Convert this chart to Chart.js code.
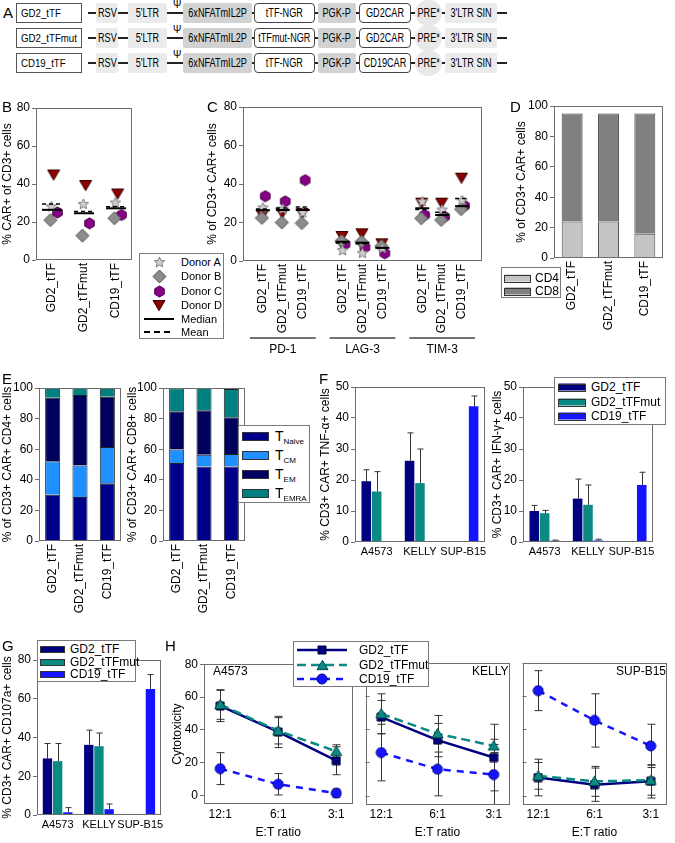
<!DOCTYPE html>
<html>
<head>
<meta charset="utf-8">
<title>tTF CAR T cell figure</title>
<script src="https://cdn.jsdelivr.net/npm/chart.js@4.4.1/dist/chart.umd.min.js"></script>
<style>
  body { margin: 0; background: #fff; }
  #fig { position: relative; width: 675px; height: 843px; overflow: hidden; background: #fff;
         font-family: "Liberation Sans", Arial, sans-serif; color: #000; }
  #fig canvas { position: absolute; }
  .panel { position: absolute; font-size: 15px; line-height: 15px; }
  .legend { position: absolute; background: #fff; border: 1px solid #7a7a7a; box-sizing: border-box; color: #000; }
  .legend div { position: absolute; white-space: nowrap; color: #000; font-weight: normal; }
  .legend sub { font-size: 8px; vertical-align: -3px; }
  .part { position: absolute; box-sizing: border-box; display: flex; align-items: center;
          justify-content: center; font-size: 12px; white-space: nowrap; }
  .part span { display: inline-block; transform: scaleX(0.76); }
  .sub { position: absolute; font-size: 12px; line-height: 14px; white-space: nowrap; }
</style>
</head>
<body>
<div id="fig"></div>
<script>
// ---------- data ----------
const constructs = ['GD2_tTF', 'GD2_tTFmut', 'CD19_tTF'];
const payloads = ['tTF-NGR', 'tTFmut-NGR', 'tTF-NGR'];
const cars = ['GD2CAR', 'GD2CAR', 'CD19CAR'];

// B: % CAR+ of CD3+ cells
const donors = ['Donor A', 'Donor B', 'Donor C', 'Donor D'];
const carDonorA = [28, 29.3, 30];
const carDonorB = [21, 12.8, 22];
const carDonorC = [25, 19.3, 23.7];
const carDonorD = [45, 39.5, 35];
const carMedian = [26.4, 24.6, 27.2];
const carMean = [29.5, 25.5, 28];

// C: % of CD3+ CAR+ cells expressing exhaustion markers (3 constructs per marker)
const exhMarkers = ['PD-1', 'LAG-3', 'TIM-3'];
const exhDonorA = [27.6, 27, 25, 5.4, 4, 6.6, 30.8, 26.5, 31.3];
const exhDonorB = [22.4, 20, 19.7, 10.4, 10, 7.8, 22.2, 21.3, 26.9];
const exhDonorC = [33.7, 31, 42, 8.7, 7.1, 4, 23.9, 23, 28.7];
const exhDonorD = [24, 25, 25, 13, 14.4, 9.2, 30.3, 30.3, 43.3];
const exhMedian = [26.4, 26.5, 26.5, 10, 9.5, 6.8, 27.4, 23.9, 28.5];
const exhMean = [27, 27.5, 28, 9.4, 8.9, 7, 26.8, 25.3, 32.5];

// D: CD4 / CD8 split
const cd4Share = [24, 24, 16];
const cd8Share = [71, 71, 79];

// E: memory subsets
const subsets = ['Naive', 'CM', 'EM', 'EMRA'];
const cd4Naive = [30.3, 28.7, 37.7];
const cd4CM = [21.9, 20.7, 23.7];
const cd4EM = [41.4, 46, 32.9];
const cd4EMRA = [6.4, 4.6, 5.7];
const cd8Naive = [51, 48.7, 48.7];
const cd8CM = [8.8, 7.6, 8.1];
const cd8EM = [25, 29.2, 24.1];
const cd8EMRA = [15, 14.5, 18.5];

// F / G: cytokine and degranulation per target line
const targets = ['A4573', 'KELLY', 'SUP-B15'];
const tnfGD2 = [19.6, 26.2, 0.3];
const tnfGD2Err = [3.7, 9, 0];
const tnfMut = [16.3, 19, 0];
const tnfMutErr = [6.4, 11, 0];
const tnfCD19 = [0, 0, 43.8];
const tnfCD19Err = [0, 0, 3.3];
const ifnGD2 = [10, 14, 0.1];
const ifnGD2Err = [1.8, 6.3, 0];
const ifnMut = [9.3, 12, 0];
const ifnMutErr = [0.9, 6.4, 0];
const ifnCD19 = [0.4, 0.5, 18.4];
const ifnCD19Err = [0.2, 0.4, 4.1];
const cd107GD2 = [29.2, 36.2, 0.3];
const cd107GD2Err = [7.7, 7.6, 0];
const cd107Mut = [27.8, 35.5, 0];
const cd107MutErr = [9.1, 6.8, 0];
const cd107CD19 = [1.4, 3, 65];
const cd107CD19Err = [2.4, 2.7, 7.5];

// H: cytotoxicity by E:T ratio
const ratios = ['12:1', '6:1', '3:1'];
const cytoTicks = [0, 20, 40, 60, 80];
const a4573GD2 = [54.6, 38.8, 21.3];
const a4573GD2Err = [9.5, 9.5, 8.5];
const a4573Mut = [55.5, 39.5, 27];
const a4573MutErr = [9, 8, 4];
const a4573CD19 = [16.5, 7, 1.6];
const a4573CD19Err = [9.7, 6.5, 2.5];
const kellyGD2 = [47.2, 33.4, 22.9];
const kellyGD2Err = [10, 10, 20];
const kellyMut = [49.2, 37.2, 29.9];
const kellyMutErr = [12, 11, 4];
const kellyCD19 = [25.9, 15.9, 12.7];
const kellyCD19Err = [17, 16, 18];
const supGD2 = [10.9, 6.6, 8.6];
const supGD2Err = [11, 10, 10];
const supMut = [11.9, 8.6, 9.3];
const supMutErr = [8, 9, 9];
const supCD19 = [63.1, 45.2, 29.9];
const supCD19Err = [12, 16, 13];

// ---------- helpers ----------
const fig = document.getElementById('fig');
const navy = '#000080', teal = '#0b8a84', blue = '#1414ff';
Chart.defaults.font.family = '"Liberation Sans", Arial, sans-serif';
Chart.defaults.font.size = 12;
Chart.defaults.color = '#000';

function addDiv(css, html, cls) {
    const d = document.createElement('div');
    if (cls) d.className = cls;
    d.style.cssText = css;
    if (html != null) d.innerHTML = html;
    fig.appendChild(d);
    return d;
}

function makeCanvas(left, top, w, h) {
    const c = document.createElement('canvas');
    c.width = w;
    c.height = h;
    c.style.left = left + 'px';
    c.style.top = top + 'px';
    fig.appendChild(c);
    return c;
}

// small marker images, used as pointStyle and in the legends
function makeMarker(shape, size, fill, stroke) {
    const c = document.createElement('canvas');
    c.width = size + 2;
    c.height = size + 2;
    const g = c.getContext('2d');
    const cx = c.width / 2, cy = c.height / 2, r = size / 2;
    g.beginPath();
    if (shape === 'star') {
        for (let i = 0; i < 10; i++) {
            const a = -Math.PI / 2 + i * Math.PI / 5;
            const rr = i % 2 ? r * 0.45 : r;
            g.lineTo(cx + rr * Math.cos(a), cy + rr * Math.sin(a));
        }
    } else if (shape === 'diamond') {
        g.moveTo(cx, cy - r); g.lineTo(cx + r, cy); g.lineTo(cx, cy + r); g.lineTo(cx - r, cy);
    } else if (shape === 'hexagon') {
        for (let i = 0; i < 6; i++) {
            const a = -Math.PI / 2 + i * Math.PI / 3;
            g.lineTo(cx + r * Math.cos(a), cy + r * Math.sin(a));
        }
    } else if (shape === 'triDown') {
        g.moveTo(cx - r, cy - r * 0.75); g.lineTo(cx + r, cy - r * 0.75); g.lineTo(cx, cy + r * 0.95);
    } else if (shape === 'triUp') {
        g.moveTo(cx, cy - r * 0.95); g.lineTo(cx + r, cy + r * 0.75); g.lineTo(cx - r, cy + r * 0.75);
    } else if (shape === 'square') {
        g.rect(cx - r, cy - r, 2 * r, 2 * r);
    } else {
        g.arc(cx, cy, r, 0, Math.PI * 2);
    }
    g.closePath();
    g.fillStyle = fill;
    g.fill();
    g.lineWidth = 1;
    g.strokeStyle = stroke;
    g.stroke();
    return c;
}

const donorMarkers = [
    makeMarker('star', 11, '#cfcfcf', '#7d7d7d'),
    makeMarker('diamond', 13, '#8c8c8c', '#505050'),
    makeMarker('hexagon', 11, '#850085', '#4a004a'),
    makeMarker('triDown', 12, '#8b0000', '#3a0000')
];
const sqMarker = makeMarker('square', 8, navy, '#00002a');
const triMarker = makeMarker('triUp', 11, teal, '#034a46');
const circMarker = makeMarker('circle', 10, blue, '#00008a');

// ---------- plugins ----------
const boxFrame = {
    id: 'boxFrame',
    afterDraw(chart) {
        const a = chart.chartArea, g = chart.ctx;
        g.save();
        g.strokeStyle = '#6e6e6e';
        g.lineWidth = 1;
        g.strokeRect(Math.round(a.left) + 0.5, Math.round(a.top) + 0.5,
            Math.round(a.right - a.left) - 1, Math.round(a.bottom - a.top) - 1);
        g.restore();
    }
};

function drawErrorBars(chart, o) {
    const g = chart.ctx, ys = chart.scales.y, a = chart.chartArea;
    g.save();
    g.beginPath();
    g.rect(a.left, a.top, a.right - a.left, a.bottom - a.top);
    g.clip();
    g.strokeStyle = '#333';
    g.lineWidth = 1;
    chart.data.datasets.forEach((ds, di) => {
        if (!ds.errors) return;
        chart.getDatasetMeta(di).data.forEach((pt, i) => {
            const e = ds.errors[i];
            if (!e) return;
            const raw = ds.data[i];
            const v = typeof raw === 'object' ? raw.y : raw;
            const top = ys.getPixelForValue(v + e);
            const bot = ys.getPixelForValue(o.upOnly ? v : v - e);
            const x = Math.round(pt.x) + 0.5;
            g.beginPath();
            g.moveTo(x, top); g.lineTo(x, bot);
            g.moveTo(x - o.cap, top); g.lineTo(x + o.cap, top);
            if (!o.upOnly) { g.moveTo(x - o.cap, bot); g.lineTo(x + o.cap, bot); }
            g.stroke();
        });
    });
    g.restore();
}

const errorBars = {
    id: 'errorBars',
    beforeDatasetsDraw(chart, args, o) { if (o.cap && o.behind) drawErrorBars(chart, o); },
    afterDatasetsDraw(chart, args, o) { if (o.cap && !o.behind) drawErrorBars(chart, o); }
};

// median (solid) and mean (dashed) bars for the donor plots
const summary = {
    id: 'summary',
    afterDatasetsDraw(chart, args, o) {
        if (!o.median) return;
        const xs = chart.scales.x, ys = chart.scales.y, g = chart.ctx;
        g.save();
        g.strokeStyle = '#000';
        o.positions.forEach((p, i) => {
            const px = xs.getPixelForValue(p);
            g.setLineDash([]);
            g.lineWidth = 2;
            let py = ys.getPixelForValue(o.median[i]);
            g.beginPath(); g.moveTo(px - o.half, py); g.lineTo(px + o.half, py); g.stroke();
            g.setLineDash([4, 3]);
            g.lineWidth = 1.5;
            py = ys.getPixelForValue(o.mean[i]);
            g.beginPath(); g.moveTo(px - o.half, py); g.lineTo(px + o.half, py); g.stroke();
        });
        g.restore();
    }
};

// PD-1 / LAG-3 / TIM-3 brackets under panel C
const groupLabels = {
    id: 'groupLabels',
    afterDraw(chart, args, o) {
        if (!o.groups) return;
        const xs = chart.scales.x, g = chart.ctx, base = chart.chartArea.bottom;
        g.save();
        g.strokeStyle = '#444';
        g.lineWidth = 1.5;
        g.fillStyle = '#000';
        g.font = '12px "Liberation Sans", Arial, sans-serif';
        g.textAlign = 'center';
        g.textBaseline = 'middle';
        o.groups.forEach((name, gi) => {
            const m = o.members[gi];
            const x0 = xs.getPixelForValue(m[0] - 0.65), x1 = xs.getPixelForValue(m[m.length - 1] + 0.65);
            g.beginPath(); g.moveTo(x0, base + o.lineGap); g.lineTo(x1, base + o.lineGap); g.stroke();
            g.fillText(name, (x0 + x1) / 2, base + o.textGap);
        });
        g.restore();
    }
};

// small inward ticks for the H sub-panels without y labels
const innerTicks = {
    id: 'innerTicks',
    afterDraw(chart, args, o) {
        if (!o.values) return;
        const ys = chart.scales.y, a = chart.chartArea, g = chart.ctx;
        g.save();
        g.strokeStyle = '#6e6e6e';
        g.lineWidth = 1;
        o.values.forEach(v => {
            const py = Math.round(ys.getPixelForValue(v)) + 0.5;
            g.beginPath(); g.moveTo(a.left, py); g.lineTo(a.left + 4, py); g.stroke();
        });
        g.restore();
    }
};

Chart.register(boxFrame, errorBars, summary, groupLabels, innerTicks);

// ---------- axis / option builders ----------
function yAxis(width, min, max, step, title, tickList) {
    const ax = {
        min: min, max: max,
        afterFit: s => { s.width = width; },
        ticks: { stepSize: step, padding: 2 },
        grid: { drawOnChartArea: false, tickLength: 4, color: '#6e6e6e' },
        border: { display: false },
        title: { display: !!title, text: title, padding: 0 }
    };
    if (tickList) ax.afterBuildTicks = s => { s.ticks = tickList.map(v => ({ value: v })); };
    return ax;
}

function catAxis(height, rotate, fontSize) {
    return {
        type: 'category',
        afterFit: s => { s.height = height; },
        ticks: { autoSkip: false, minRotation: rotate ? 90 : 0, maxRotation: rotate ? 90 : 0, padding: 3,
                 font: { size: fontSize || 12 } },
        grid: { display: false, drawTicks: false },
        border: { display: false }
    };
}

function posAxis(height, min, max, positions, labels, rotate) {
    return {
        type: 'linear', min: min, max: max,
        afterFit: s => { s.height = height; },
        afterBuildTicks: s => { s.ticks = positions.map(v => ({ value: v })); },
        ticks: {
            autoSkip: false, minRotation: rotate ? 90 : 0, maxRotation: rotate ? 90 : 0, padding: 3,
            callback: v => labels[positions.indexOf(v)]
        },
        grid: { display: false, drawTicks: false },
        border: { display: false }
    };
}

function chartOptions(pad, scales, plugins) {
    return {
        responsive: false,
        animation: false,
        events: [],
        layout: { padding: Object.assign({ left: 0, right: 0, top: 0, bottom: 0 }, pad) },
        plugins: Object.assign({ legend: { display: false }, tooltip: { enabled: false } }, plugins || {}),
        scales: scales
    };
}

// ---------- panel A: vector maps ----------
const rowY = [13, 38, 63];
const partBoxes = [
    [96, 118, '#ebebeb', 'box'], [128, 167, '#ebebeb', 'box'], [183, 252, '#d2d2d2', 'box'],
    [254, 315, '#fff', 'open'], [318, 356, '#d2d2d2', 'box'], [359, 411, '#fff', 'open'],
    [415, 442, '#e8e8e8', 'oval'], [445, 497, '#ebebeb', 'box']
];
constructs.forEach((name, r) => {
    const cy = rowY[r];
    const texts = ['RSV', "5'LTR", '6xNFATmIL2P', payloads[r], 'PGK-P', cars[r], 'PRE*', "3'LTR SIN"];
    addDiv(`position:absolute;left:88px;top:${cy - 1}px;width:419px;height:2px;background:#222`);
    addDiv(`left:16px;top:${cy - 10}px;width:66px;height:20px;border:1px solid #555;background:#fff;justify-content:flex-start;padding-left:4px;font-size:11px`,
        `<span style="transform:scaleX(0.88);transform-origin:left">${name}</span>`, 'part');
    addDiv(`position:absolute;left:173px;top:${cy - 13}px;font-size:10px;line-height:10px`, 'Ψ');
    partBoxes.forEach((p, i) => {
        let css = `left:${p[0]}px;width:${p[1] - p[0]}px;background:${p[2]};`;
        if (p[3] === 'oval') css += `top:${cy - 13}px;height:26px;border-radius:50%;`;
        else if (p[3] === 'open') css += `top:${cy - 10}px;height:20px;border-radius:4px;border:1px solid #444;`;
        else css += `top:${cy - 10}px;height:20px;border-radius:2px;`;
        addDiv(css, `<span>${texts[i]}</span>`, 'part');
    });
});

// ---------- panel B ----------
const bValues = [carDonorA, carDonorB, carDonorC, carDonorD];
const bShift = [-0.02, -0.05, 0.17, 0.05];
new Chart(makeCanvas(0, 98, 140, 245), {
    type: 'scatter',
    data: {
        datasets: donors.map((d, k) => ({
            label: d,
            data: bValues[k].map((v, i) => ({ x: i + 1 + bShift[k], y: v })),
            pointStyle: donorMarkers[k],
            pointRadius: 6
        }))
    },
    options: chartOptions({ top: 10, right: 8 }, {
        x: posAxis(83, 0.5, 3.5, [1, 2, 3], constructs, true),
        y: yAxis(36, 0, 80, 20, '% CAR+ of CD3+ cells')
    }, { summary: { positions: [1, 2, 3], median: carMedian, mean: carMean, half: 10 } })
});

// ---------- panel C ----------
const exhPositions = [1, 2, 3, 5, 6, 7, 9, 10, 11];
const exhLabels = exhPositions.map((p, i) => constructs[i % 3]);
const cValues = [exhDonorA, exhDonorB, exhDonorC, exhDonorD];
const cShift = [0, -0.05, 0.12, -0.03];
new Chart(makeCanvas(205, 97, 285, 265), {
    type: 'scatter',
    data: {
        datasets: donors.map((d, k) => ({
            label: d,
            data: cValues[k].map((v, i) => ({ x: exhPositions[i] + cShift[k], y: v })),
            pointStyle: donorMarkers[k],
            pointRadius: 6
        }))
    },
    options: chartOptions({ top: 10, right: 8 }, {
        x: posAxis(101, 0, 12, exhPositions, exhLabels, true),
        y: yAxis(38, 0, 80, 20, '% of CD3+ CAR+ cells')
    }, {
        summary: { positions: exhPositions, median: exhMedian, mean: exhMean, half: 7 },
        groupLabels: { groups: exhMarkers, members: [[1, 2, 3], [5, 6, 7], [9, 10, 11]], lineGap: 77, textGap: 89 }
    })
});

// ---------- panel D ----------
new Chart(makeCanvas(514, 96, 156, 245), {
    type: 'bar',
    data: {
        labels: constructs,
        datasets: [
            { label: 'CD4', data: cd4Share, backgroundColor: '#c4c4c4', borderColor: '#4a4a4a', borderWidth: 1,
              categoryPercentage: 0.8, barPercentage: 0.72 },
            { label: 'CD8', data: cd8Share, backgroundColor: '#808080', borderColor: '#4a4a4a', borderWidth: 1,
              categoryPercentage: 0.8, barPercentage: 0.72 }
        ]
    },
    options: chartOptions({ top: 10, right: 7 }, {
        x: Object.assign(catAxis(83, true), { stacked: true }),
        y: Object.assign(yAxis(40, 0, 100, 20, '% of CD3+ CAR+ cells'), { stacked: true })
    })
});

// ---------- panel E ----------
const subsetColors = ['#00008b', '#1e90ff', '#00005e', '#008080'];
function subsetChart(left, yw, title, parts) {
    new Chart(makeCanvas(left, 375, yw + 87, 240), {
        type: 'bar',
        data: {
            labels: constructs,
            datasets: parts.map((arr, k) => ({
                label: subsets[k], data: arr, backgroundColor: subsetColors[k],
                borderColor: '#222', borderWidth: 1, categoryPercentage: 0.8, barPercentage: 0.69
            }))
        },
        options: chartOptions({ top: 13, right: 5 }, {
            x: Object.assign(catAxis(74, true), { stacked: true }),
            y: Object.assign(yAxis(yw, 0, 100, 20, title), { stacked: true })
        })
    });
}
subsetChart(0, 39, '% of CD3+ CAR+ CD4+ cells', [cd4Naive, cd4CM, cd4EM, cd4EMRA]);
subsetChart(125, 38, '% of CD3+ CAR+ CD8+ cells', [cd8Naive, cd8CM, cd8EM, cd8EMRA]);

// ---------- panels F and G ----------
function groupedBars(left, top, w, h, yw, padTop, padRight, max, step, title, series, errs, catPct, barPct) {
    const colors = [navy, teal, blue];
    new Chart(makeCanvas(left, top, w, h), {
        type: 'bar',
        data: {
            labels: targets,
            datasets: series.map((arr, k) => ({
                label: constructs[k], data: arr, errors: errs[k], backgroundColor: colors[k],
                categoryPercentage: catPct, barPercentage: barPct
            }))
        },
        options: chartOptions({ top: padTop, right: padRight }, {
            x: catAxis(h - padTop - 155, false, 11),
            y: yAxis(yw, 0, max, step, title)
        }, { errorBars: { cap: 3, upOnly: true } })
    });
}
groupedBars(318, 375, 172, 192, 37, 12, 5, 50, 10, '% CD3+ CAR+ TNF-α+ cells',
    [tnfGD2, tnfMut, tnfCD19], [tnfGD2Err, tnfMutErr, tnfCD19Err], 0.72, 0.92);
groupedBars(490, 375, 170, 192, 33, 12, 7, 50, 10, '% CD3+ CAR+ IFN-γ+ cells',
    [ifnGD2, ifnMut, ifnCD19], [ifnGD2Err, ifnMutErr, ifnCD19Err], 0.72, 0.92);
groupedBars(0, 645, 167, 192, 37, 15, 5, 80, 20, '% CD3+ CAR+ CD107a+ cells',
    [cd107GD2, cd107Mut, cd107CD19], [cd107GD2Err, cd107MutErr, cd107CD19Err], 0.74, 0.92);

// ---------- panel H ----------
function cytoChart(left, width, padLeft, showY, gd2, gd2Err, mut, mutErr, cd19, cd19Err) {
    const pts = arr => arr.map((v, i) => ({ x: i, y: v }));
    new Chart(makeCanvas(left, 655, width, 188), {
        type: 'scatter',
        data: {
            datasets: [
                { label: constructs[0], data: pts(gd2), errors: gd2Err, showLine: true, borderColor: navy,
                  borderWidth: 2.5, pointStyle: sqMarker, pointRadius: 5, order: 2 },
                { label: constructs[1], data: pts(mut), errors: mutErr, showLine: true, borderColor: teal,
                  borderWidth: 2.5, borderDash: [9, 5], pointStyle: triMarker, pointRadius: 5, order: 1 },
                { label: constructs[2], data: pts(cd19), errors: cd19Err, showLine: true, borderColor: blue,
                  borderWidth: 2.5, borderDash: [7, 6], pointStyle: circMarker, pointRadius: 5, order: 0 }
            ]
        },
        options: chartOptions({ left: padLeft, top: 7, right: 2 }, {
            x: Object.assign(posAxis(39, -0.28, 2.28, [0, 1, 2], ratios, false), {
                title: { display: true, text: 'E:T ratio', padding: { top: 0, bottom: 3 } }
            }),
            y: showY ? yAxis(34, -5, 80, 20, 'Cytotoxicity', cytoTicks) : { display: false, min: -5, max: 80 }
        }, {
            errorBars: { cap: 4, behind: true },
            innerTicks: showY ? {} : { values: cytoTicks }
        })
    });
}
cytoChart(170, 190, 0, true, a4573GD2, a4573GD2Err, a4573Mut, a4573MutErr, a4573CD19, a4573CD19Err);
cytoChart(358, 159, 2, false, kellyGD2, kellyGD2Err, kellyMut, kellyMutErr, kellyCD19, kellyCD19Err);
cytoChart(515, 159, 2, false, supGD2, supGD2Err, supMut, supMutErr, supCD19, supCD19Err);
addDiv('left:213px;top:664px', targets[0], 'sub');
addDiv('left:472px;top:664px', targets[1], 'sub');
addDiv('left:616px;top:664px', targets[2], 'sub');

// ---------- legends ----------
function legend(left, top, w, h, fontSize, symX, symW, textX, rows) {
    const box = addDiv(`left:${left}px;top:${top}px;width:${w}px;height:${h}px;font-size:${fontSize}px`, '', 'legend');
    rows.forEach(r => {
        const c = document.createElement('canvas');
        c.width = symW;
        c.height = 16;
        c.style.left = symX + 'px';
        c.style.top = (r.y - 8) + 'px';
        r.draw(c.getContext('2d'), symW);
        box.appendChild(c);
        const t = document.createElement('div');
        t.style.cssText = `left:${textX}px;top:${r.y - 8}px;line-height:16px`;
        t.innerHTML = r.label;
        box.appendChild(t);
    });
}
const swatch = (color, hgt) => (g, w) => {
    g.fillStyle = color;
    g.fillRect(0.5, 8 - hgt / 2, w - 1, hgt);
    g.strokeStyle = '#333';
    g.lineWidth = 1;
    g.strokeRect(0.5, Math.round(8 - hgt / 2) + 0.5, w - 1, hgt);
};
const markerSym = img => (g, w) => g.drawImage(img, Math.round(w / 2 - img.width / 2), Math.round(8 - img.height / 2));
const lineSym = (color, dash, lw, img) => (g, w) => {
    g.strokeStyle = color;
    g.lineWidth = lw;
    g.setLineDash(dash);
    g.beginPath(); g.moveTo(0, 8); g.lineTo(w, 8); g.stroke();
    g.setLineDash([]);
    if (img) g.drawImage(img, Math.round(w / 2 - img.width / 2), Math.round(8 - img.height / 2));
};

legend(139, 253, 85, 86, 11, 4, 30, 41, donors.map((d, k) => ({ y: 8 + k * 14.3, label: d, draw: markerSym(donorMarkers[k]) }))
    .concat([{ y: 65, label: 'Median', draw: lineSym('#000', [], 2) },
             { y: 78, label: 'Mean', draw: lineSym('#000', [6, 4], 2) }]));
legend(501, 267, 60, 31, 12, 2, 27, 33, [
    { y: 10, label: 'CD4', draw: swatch('#c4c4c4', 7) },
    { y: 23, label: 'CD8', draw: swatch('#808080', 7) }
]);
legend(238, 425, 72, 78, 14, 3, 27, 36, subsets.map((s, k) => ({
    y: 10 + k * 19, label: `T<sub>${s}</sub>`, draw: swatch(subsetColors[k], 8)
})));
legend(554, 377, 112, 48, 12, 3, 28, 36, constructs.map((s, k) => ({
    y: 9 + k * 14.5, label: s, draw: swatch([navy, teal, blue][k], 7)
})));
legend(37, 640, 99, 42, 12, 2, 25, 32, constructs.map((s, k) => ({
    y: 8 + k * 12.5, label: s, draw: swatch([navy, teal, blue][k], 6)
})));
legend(293, 641, 136, 46, 12, 3, 50, 65, [
    { y: 8, label: constructs[0], draw: lineSym(navy, [], 2.5, sqMarker) },
    { y: 22.5, label: constructs[1], draw: lineSym(teal, [9, 5], 2.5, triMarker) },
    { y: 37, label: constructs[2], draw: lineSym(blue, [7, 6], 2.5, circMarker) }
]);

// ---------- panel letters ----------
[['A', 3, 5], ['B', 2, 99], ['C', 207, 99], ['D', 510, 99], ['E', 2, 371],
 ['F', 319, 371], ['G', 2, 638], ['H', 165, 638]].forEach(p => {
    addDiv(`left:${p[1]}px;top:${p[2]}px`, p[0], 'panel');
});
</script>
</body>
</html>
